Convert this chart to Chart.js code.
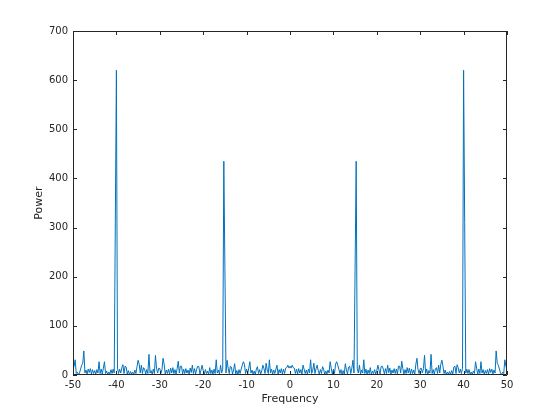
<!DOCTYPE html>
<html>
<head>
<meta charset="utf-8">
<script src="https://cdn.jsdelivr.net/npm/chart.js@4.4.1/dist/chart.umd.min.js"></script>
<style>
  html, body { margin: 0; padding: 0; background: #fff; }
  #wrap { width: 560px; height: 420px; }
</style>
</head>
<body>
<div id="wrap"><canvas id="spectrum"></canvas></div>
<script>
// frequency bins: -50 .. 50, step 0.25 (401 bins)
var FREQ_START = -50;
var FREQ_STEP = 0.25;

// power per bin, 20 bins (5 Hz) per row
var power = [
  12, 18, 31, 3, 6, 1, 4, 12, 20, 24, 49, 4, 10, 2, 12, 5, 13, 2, 11, 3,
  9, 2, 11, 4, 27, 3, 12, 2, 14, 27, 3, 8, 1, 6, 2, 11, 3, 12, 4, 310,
  620, 14, 3, 12, 4, 15, 21, 3, 18, 16, 2, 9, 1, 7, 2, 6, 1, 10, 3, 17,
  30, 22, 4, 20, 3, 15, 12, 2, 11, 3, 42, 4, 9, 1, 12, 3, 40, 13, 4, 14,
  13, 3, 11, 34, 22, 2, 10, 3, 12, 2, 14, 4, 15, 3, 11, 2, 13, 28, 4, 18,
  18, 2, 12, 3, 13, 4, 10, 2, 14, 5, 20, 3, 13, 2, 12, 18, 17, 2, 10, 20,
  9, 2, 11, 3, 8, 1, 15, 3, 10, 2, 12, 3, 31, 4, 10, 2, 20, 4, 12, 435,
  218, 4, 30, 14, 3, 18, 16, 2, 10, 23, 2, 9, 1, 11, 3, 12, 20, 27, 22, 3,
  12, 2, 14, 27, 4, 10, 2, 8, 1, 12, 17, 3, 11, 2, 9, 20, 13, 3, 24, 10,
  3, 31, 4, 12, 2, 10, 3, 12, 20, 2, 11, 4, 13, 2, 12, 3, 14, 15, 20, 14,
  18,
  14, 20, 15, 14, 3, 12, 2, 13, 4, 11, 2, 20, 12, 3, 10, 2, 12, 4, 31, 3,
  10, 24, 3, 13, 20, 9, 2, 11, 3, 17, 12, 1, 8, 2, 10, 4, 27, 14, 2, 12,
  3, 22, 27, 20, 12, 3, 11, 1, 9, 2, 23, 10, 2, 16, 18, 3, 14, 30, 4, 218,
  435, 12, 4, 20, 2, 10, 4, 31, 3, 12, 2, 10, 3, 15, 1, 8, 3, 11, 2, 9,
  20, 10, 2, 17, 18, 12, 2, 13, 3, 20, 5, 14, 2, 10, 4, 13, 3, 12, 2, 18,
  18, 4, 28, 13, 2, 11, 3, 15, 4, 14, 2, 12, 3, 10, 2, 22, 34, 11, 3, 13,
  14, 4, 13, 40, 3, 12, 1, 9, 4, 42, 3, 11, 2, 12, 15, 3, 20, 4, 22, 30,
  17, 3, 10, 1, 6, 2, 7, 1, 9, 2, 16, 18, 3, 21, 15, 4, 12, 3, 14, 620,
  310, 4, 12, 3, 11, 2, 6, 1, 8, 3, 27, 14, 2, 12, 3, 27, 4, 11, 2, 9,
  3, 11, 2, 13, 5, 12, 2, 10, 4, 49, 24, 20, 12, 4, 1, 6, 3, 31, 18, 12
];

var xTicks = [-50, -40, -30, -20, -10, 0, 10, 20, 30, 40, 50];
var yTicks = [0, 100, 200, 300, 400, 500, 600, 700];

var points = power.map(function (p, i) {
  return { x: FREQ_START + i * FREQ_STEP, y: p };
});

var axisColor = "#262626";

// matlab style box with inward ticks
var boxPlugin = {
  id: "box",
  afterDraw: function (chart) {
    var c = chart.ctx, a = chart.chartArea;
    var xs = chart.scales.x, ys = chart.scales.y;
    c.save();
    c.strokeStyle = axisColor;
    c.lineWidth = 1;
    c.beginPath();
    c.rect(a.left + 0.5, a.top + 0.5, a.right - a.left - 1, a.bottom - a.top - 1);
    xTicks.forEach(function (v) {
      var px = Math.round(xs.getPixelForValue(v)) + 0.5;
      c.moveTo(px, a.bottom); c.lineTo(px, a.bottom - 4);
      c.moveTo(px, a.top); c.lineTo(px, a.top + 4);
    });
    yTicks.forEach(function (v) {
      var py = Math.round(ys.getPixelForValue(v)) + 0.5;
      c.moveTo(a.left, py); c.lineTo(a.left + 4, py);
      c.moveTo(a.right, py); c.lineTo(a.right - 4, py);
    });
    c.stroke();
    c.restore();
  }
};

new Chart(document.getElementById("spectrum"), {
  type: "line",
  data: {
    datasets: [
      {
        data: points,
        borderColor: "rgb(0, 114, 189)",
        borderWidth: 1,
        pointRadius: 0,
        tension: 0,
        fill: false
      }
    ]
  },
  options: {
    responsive: true,
    maintainAspectRatio: false,
    animation: false,
    layout: { padding: { left: 0, right: 53, top: 31, bottom: 0 } },
    plugins: { legend: { display: false }, tooltip: { enabled: false } },
    scales: {
      x: {
        type: "linear",
        min: -50,
        max: 50,
        afterFit: function (s) { s.height = 45; },
        afterBuildTicks: function (s) { s.ticks = xTicks.map(function (v) { return { value: v }; }); },
        grid: { display: false, drawTicks: false },
        border: { display: false },
        ticks: { color: axisColor, padding: 4, font: { family: "DejaVu Sans", size: 10 } },
        title: {
          display: true,
          text: "Frequency",
          color: axisColor,
          padding: { top: 0, bottom: 14 },
          font: { family: "DejaVu Sans", size: 11 }
        }
      },
      y: {
        min: 0,
        max: 700,
        afterFit: function (s) { s.width = 73; },
        afterBuildTicks: function (s) { s.ticks = yTicks.map(function (v) { return { value: v }; }); },
        grid: { display: false, drawTicks: false },
        border: { display: false },
        ticks: { color: axisColor, padding: 5, font: { family: "DejaVu Sans", size: 10 } },
        title: {
          display: true,
          text: "Power",
          color: axisColor,
          padding: { top: 33, bottom: 0 },
          font: { family: "DejaVu Sans", size: 11 }
        }
      }
    }
  },
  plugins: [boxPlugin]
});
</script>
</body>
</html>
